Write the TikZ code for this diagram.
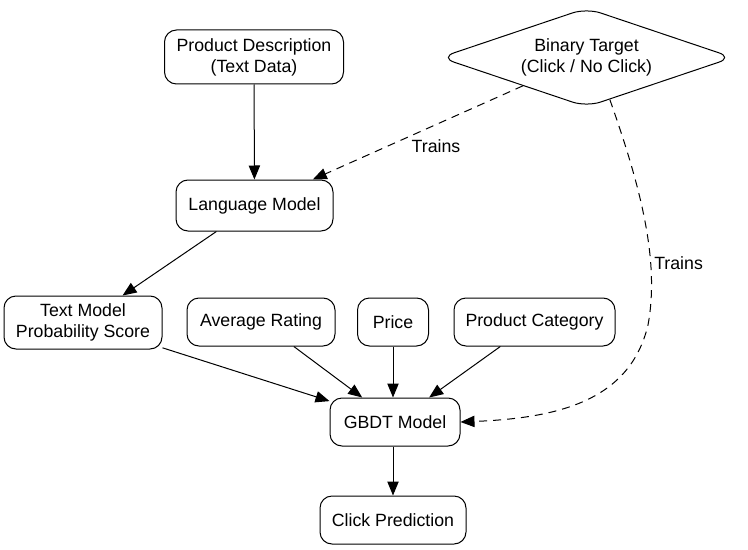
\documentclass[tikz,border=0pt]{standalone}
\usepackage{fontspec}
\setmainfont{Liberation Sans}
\usetikzlibrary{shapes.geometric,arrows.meta}
\begin{document}
\begin{tikzpicture}[x=0.75pt,y=-0.75pt,
  every node/.style={font=\fontsize{13.3}{15.75}\selectfont, align=center},
  box/.style={draw, rounded corners=9pt, line width=0.75pt, inner sep=0pt},
  dia/.style={draw, diamond, rounded corners=11pt, line width=0.75pt, inner sep=0pt, aspect=2.96},
  arr/.style={line width=0.75pt, -{Triangle[length=10.5pt,width=8.5pt]}},
  dsh/.style={arr, dash pattern=on 6pt off 4.5pt},
  lbl/.style={inner sep=0pt}]
\useasboundingbox (0,0) rectangle (748,549);
\node[box, minimum width=134.25pt, minimum height=40.5pt] (pd) at (254,57) {Product Description\\(Text Data)};
\node[dia, minimum width=219.75pt, minimum height=74.25pt] (bt) at (586.5,57.5) {Binary Target\\(Click / No Click)};
\node[box, minimum width=117.75pt, minimum height=38.25pt] (lm) at (254.5,205.5) {Language Model};
\node[box, minimum width=118.5pt, minimum height=39.75pt] (tm) at (83,322.5) {Text Model\\Probability Score};
\node[box, minimum width=111pt, minimum height=36pt] (ar) at (261,322) {Average Rating};
\node[box, minimum width=53.25pt, minimum height=36pt] (pr) at (393,322) {Price};
\node[box, minimum width=120.75pt, minimum height=36pt] (pc) at (534.5,322) {Product Category};
\node[box, minimum width=97.5pt, minimum height=36pt] (gb) at (395,422) {GBDT Model};
\node[box, minimum width=109.5pt, minimum height=36pt] (cp) at (393,520) {Click Prediction};
\node[lbl] (l1) at (436,146) {Trains};
\node[lbl, anchor=west] (l2) at (654,263) {Trains};
\draw[arr] (pd) -- (lm);
\draw[dsh] (bt) -- (lm);
\draw[arr] (lm) -- (tm);
\draw[arr] (tm) -- (gb);
\draw[arr] (ar) -- (gb);
\draw[arr] (pr) -- (pr |- gb.north);
\draw[arr] (pc) -- (gb);
\draw[arr] (cp |- gb.south) -- (cp);
\draw[dsh] (bt.-61) .. controls (640,185) and (660,260) .. (648,325) .. controls (630,400) and (560,418) .. (gb.east);
\end{tikzpicture}
\end{document}
